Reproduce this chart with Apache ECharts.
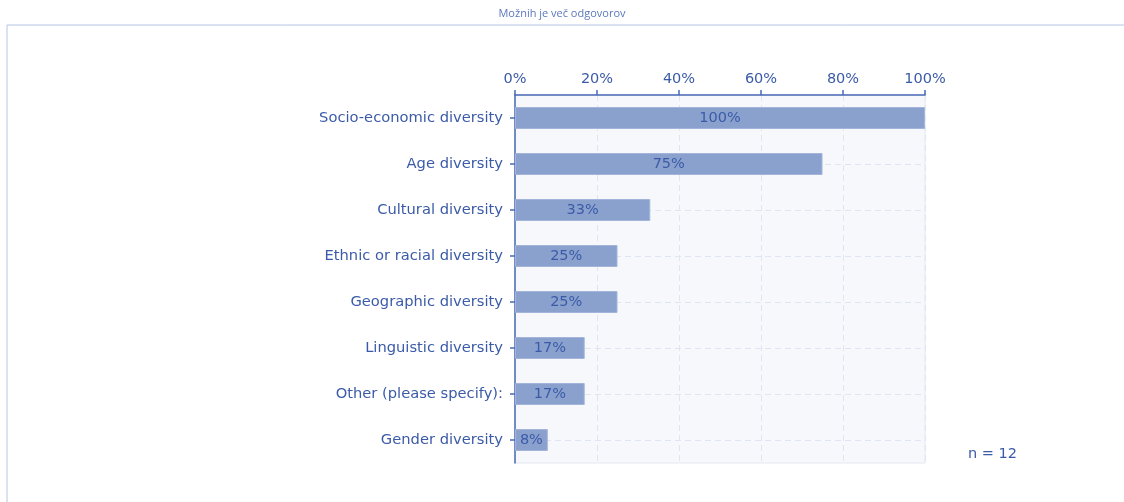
<!DOCTYPE html>
<html>
<head>
<meta charset="utf-8">
<script src="https://cdn.jsdelivr.net/npm/echarts@6/dist/echarts.min.js"></script>
<style>
  html, body { margin: 0; padding: 0; background: #fff; }
  #chart { width: 1124px; height: 502px; }
</style>
</head>
<body>
<div id="chart"></div>
<script>
////--------------------------------------------------------------------////
const categories = [
    'Socio-economic diversity',
    'Age diversity',
    'Cultural diversity',
    'Ethnic or racial diversity',
    'Geographic diversity',
    'Linguistic diversity',
    'Other (please specify):',
    'Gender diversity'
];
const values     = [100, 75, 33, 25, 25, 17, 17, 8];
const titleText  = 'Možnih je več odgovorov';
const nText      = 'n = 12';
////--------------------------------------------------------------------////
const textColor = '#3b5ba8';
const axisColor = '#4a6ab4';
const gridColor = '#dfe5f2';
const font      = 'DejaVu Sans';

const chart = echarts.init(document.getElementById('chart'), null, {renderer: 'canvas'});

const option = {
    animation: false,
    backgroundColor: '#ffffff',
    textStyle: {fontFamily: font},
    grid: {
        left: 515, right: 199, top: 95, height: 368,
        show: true,
        backgroundColor: '#f6f8fc',
        borderColor: '#e3e8f4',
        borderWidth: 1
    },
    graphic: [
        {
            type: 'polyline',
            shape: {points: [[7, 502], [7, 25], [1124, 25]]},
            style: {stroke: '#b6c4e4', lineWidth: 1, fill: null},
            silent: true
        },
        {
            type: 'text', left: 'center', top: 8,
            style: {text: titleText, fill: '#5b78bd', font: '11px "Open Sans"'}
        },
        {
            type: 'text', left: 968, top: 447,
            style: {text: nText, fill: textColor, font: '14.5px "DejaVu Sans"'}
        }
    ],
    xAxis: {
        type: 'value',
        position: 'top',
        min: 0, max: 100, interval: 20,
        axisLine: {show: true, lineStyle: {color: axisColor, width: 1.5}},
        axisTick: {show: true, length: 5, lineStyle: {color: axisColor, width: 1.5}},
        axisLabel: {color: textColor, fontSize: 14.5, formatter: '{value}%', margin: 8},
        splitLine: {show: true, lineStyle: {color: gridColor, type: [6, 4], width: 1}}
    },
    yAxis: {
        type: 'category',
        inverse: true,
        data: categories,
        axisLine: {show: true, lineStyle: {color: axisColor, width: 1.5}},
        axisTick: {show: true, alignWithLabel: true, length: 5, lineStyle: {color: axisColor, width: 1.5}},
        axisLabel: {color: textColor, fontSize: 14.7, margin: 12},
        splitLine: {show: false}
    },
    series: [
        {
            type: 'line',
            z: 1,
            data: [],
            markLine: {
                z: 1,
                silent: true,
                symbol: 'none',
                label: {show: false},
                lineStyle: {color: gridColor, type: [6, 4], width: 1},
                data: categories.map(c => ({yAxis: c}))
            }
        },
        {
            type: 'bar',
            z: 3,
            data: values,
            barWidth: 22,
            itemStyle: {color: '#8aa1cd', borderColor: '#a3b5da', borderWidth: 1},
            label: {
                show: true,
                position: 'inside',
                color: textColor,
                fontSize: 14.5,
                formatter: p => p.value + '%'
            }
        }
    ]
};

chart.setOption(option);
window.addEventListener('resize', chart.resize);
</script>
</body>
</html>
